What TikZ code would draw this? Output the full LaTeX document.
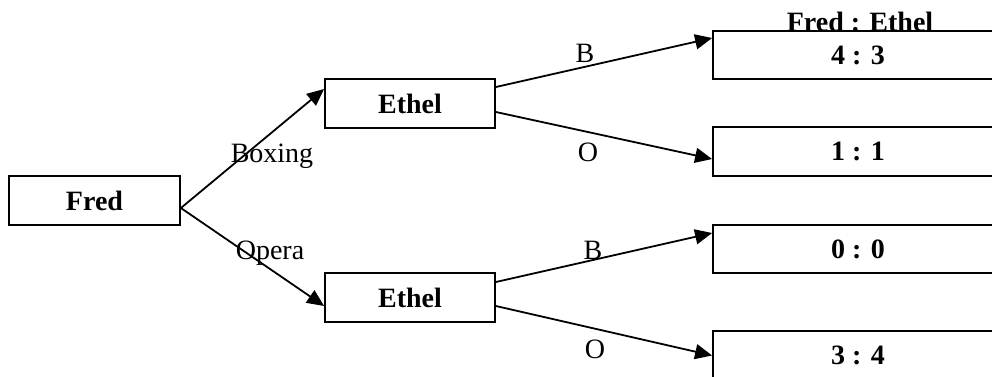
\documentclass[tikz,border=0pt]{standalone}
\usepackage{fontspec}
\setmainfont{Liberation Serif}
\usetikzlibrary{arrows.meta,calc}
\begin{document}
\begin{tikzpicture}[x=1pt,y=-1pt,
  box/.style={draw,line width=1.8pt,rectangle,inner sep=0pt,font=\fontsize{28}{34}\selectfont\bfseries},
  lbl/.style={inner sep=0pt,anchor=base,font=\fontsize{28}{34}\selectfont},
  arr/.style={line width=1.8pt,-{Triangle[length=17pt,width=15pt]}}]
\useasboundingbox (0,0) rectangle (992,376);
\clip (0,0) rectangle (992,376);
% decision nodes
\node[box,minimum width=171pt,minimum height=49pt] (fred) at (94.5,200.5) {Fred};
\node[box,minimum width=170pt,minimum height=49pt] (ethA) at (410,103.5) {Ethel};
\node[box,minimum width=170pt,minimum height=49pt] (ethB) at (410,297.5) {Ethel};
% outcome boxes
\node[box,minimum width=290pt,minimum height=48pt] (r1) at (858,55) {4 : 3};
\node[box,minimum width=290pt,minimum height=49pt] (r2) at (858,151.5) {1 : 1};
\node[box,minimum width=290pt,minimum height=48pt] (r3) at (858,249) {0 : 0};
\node[box,minimum width=290pt,minimum height=49pt] (r4) at (858,355.5) {3 : 4};
% header
\node[lbl,font=\fontsize{28}{34}\selectfont\bfseries] (hdr) at (860,31) {Fred : Ethel};
% connectors
\coordinate (fo) at ($(fred.east)+(0,7.5)$);
\draw[arr] (fo) -- ($(ethA.west)+(0,-14.5)$);
\draw[arr] (fo) -- ($(ethB.west)+(0,8.5)$);
\draw[arr] ($(ethA.east)+(0,-16.5)$) -- ($(r1.west)+(0,-17)$);
\draw[arr] ($(ethA.east)+(0,8.5)$) -- ($(r2.west)+(0,7.5)$);
\draw[arr] ($(ethB.east)+(0,-15.5)$) -- ($(r3.west)+(0,-16)$);
\draw[arr] ($(ethB.east)+(0,8.5)$) -- ($(r4.west)+(0,0)$);
% labels
\node[lbl] (lbox) at (272,162) {Boxing};
\node[lbl] (lop) at (270,259) {Opera};
\node[lbl] (lb1) at (585,62) {B};
\node[lbl] (lo1) at (588,161) {O};
\node[lbl] (lb2) at (593,259) {B};
\node[lbl] (lo2) at (595,358) {O};
\end{tikzpicture}
\end{document}
